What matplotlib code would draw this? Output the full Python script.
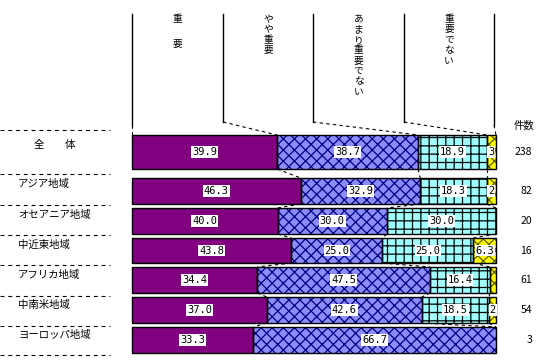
import matplotlib
matplotlib.use("Agg")
import matplotlib.pyplot as plt
import numpy as np

plt.rcParams['font.family'] = ['Noto Sans CJK JP', 'DejaVu Sans']
plt.rcParams['hatch.linewidth'] = 0.9

# ---- data ----
regions = ["全　　体", "アジア地域", "オセアニア地域", "中近東地域", "アフリカ地域", "中南米地域", "ヨーロッパ地域"]
counts = ["238", "82", "20", "16", "61", "54", "3"]
series_names = ["重　要", "やや重要", "あまり重要でない", "重要でない"]
important = [39.9, 46.3, 40.0, 43.8, 34.4, 37.0, 33.3]
somewhat = [38.7, 32.9, 30.0, 25.0, 47.5, 42.6, 66.7]
not_very = [18.9, 18.3, 30.0, 25.0, 16.4, 18.5, 0.0]
not_imp = [2.5, 2.4, 0.0, 6.3, 1.7, 1.9, 0.0]
not_imp_labels = ["3", "2", "", "6.3", "", "2", ""]

# ---- layout (pixels) ----
W, H = 543, 360
X0, X1 = 132, 496
SC = (X1 - X0) / 100.0
bar_tops = [135, 178, 208, 238, 267, 297, 327]
bar_bots = [169, 204, 234, 263, 293, 323, 353]

def px(xp):
    return (xp - X0) / SC

fig = plt.figure(figsize=(W / 100, H / 100), dpi=100)
ax = fig.add_axes([0, 0, 1, 1])
ax.set_xlim(px(0), px(W))
ax.set_ylim(H, 0)
ax.axis('off')

series = [important, somewhat, not_very, not_imp]
faces = ["#800080", "#8C8CFF", "#A0FFFF", "#FFFF00"]
hatches = [None, "xxx", "++", "xxx"]
hcolors = [None, "#000080", "#000000", "#606000"]

centers = [(t + b) / 2 for t, b in zip(bar_tops, bar_bots)]
heights = [b - t for t, b in zip(bar_tops, bar_bots)]

lefts = np.zeros(len(regions))
cum = []
for k, vals in enumerate(series):
    vals = np.array(vals)
    ax.barh(centers, vals, left=lefts, height=heights, color=faces[k],
            linewidth=0, zorder=2)
    if hatches[k]:
        ax.barh(centers, vals, left=lefts, height=heights, facecolor='none',
                edgecolor=hcolors[k], hatch=hatches[k], linewidth=0, zorder=3)
    for i, v in enumerate(vals):
        if v > 0:
            ax.barh(centers[i], v, left=lefts[i], height=heights[i], fill=False,
                    edgecolor='black', linewidth=1.0, zorder=4)
    # labels
    for i, v in enumerate(vals):
        if k < 3:
            lab = f"{v:.1f}" if v > 0 else ""
        else:
            lab = not_imp_labels[i]
        if lab:
            ax.text(lefts[i] + v / 2, centers[i], lab, ha='center', va='center',
                    fontsize=7.5, family='DejaVu Sans Mono', zorder=6,
                    bbox=dict(facecolor='white', edgecolor='none', pad=0.6))
    lefts = lefts + vals
    cum.append(lefts.copy())

# series lines between bars (dashed)
for k in range(3):
    for i in range(len(regions) - 1):
        ax.plot([cum[k][i], cum[k][i + 1]], [bar_bots[i], bar_tops[i + 1]],
                color='black', lw=0.8, ls=(0, (3, 3)), zorder=1)

# header columns
col_lines = [132, 223, 313, 404, 494]
for j, xp in enumerate(col_lines):
    end = 125 if j in (0, 4) else 122
    ax.plot([px(xp), px(xp)], [14, end], color='black', lw=1.0)
    if j == 0:
        target = 0
    elif j == 4:
        target = 100
    else:
        target = cum[j - 1][0]
    ax.plot([px(xp), target], [end, bar_tops[0]], color='black', lw=0.8,
            ls=(0, (3, 3)))

# vertical header text
for j, name in enumerate(series_names):
    xc = px((col_lines[j] + col_lines[j + 1]) / 2)
    chars = list(name)
    step = 10.4
    y = 19
    if name == "重　要":
        step = 12.5
    for c in chars:
        ax.text(xc, y, c, ha='center', va='center', fontsize=7)
        y += step

ax.text(px(524), 126, "件数", ha='center', va='center', fontsize=7.5)

# left labels and dashed separators
sep_y = [130, 174, 205, 235, 265, 296, 326, 355]
for y in sep_y:
    ax.plot([px(0), px(110)], [y, y], color='black', lw=0.8, ls=(0, (3.5, 3.5)))
label_y = [145, 184, 215, 245, 275, 305, 335]
for i, name in enumerate(regions):
    if i == 0:
        ax.text(px(55), label_y[i], name, ha='center', va='center', fontsize=7.5)
    else:
        ax.text(px(18), label_y[i], name, ha='left', va='center', fontsize=7.5)
    ax.text(px(532), centers[i], counts[i], ha='right', va='center', fontsize=7.5)

fig.savefig("out.png", dpi=100)
